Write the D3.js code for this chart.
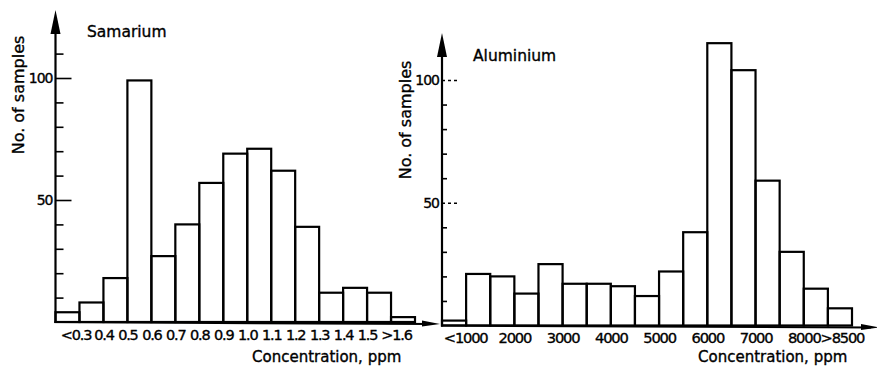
<!DOCTYPE html>
<html>
<head>
<meta charset="utf-8">
<script src="https://cdn.jsdelivr.net/npm/d3@7"></script>
<style>
  body { margin: 0; background: #fff; }
  svg { display: block; }
  text { font-family: "DejaVu Sans", sans-serif; fill: #000; stroke: #000; stroke-width: 0.35px; }
</style>
</head>
<body>
<svg id="chart" width="877" height="368"></svg>
<script>
// Samarium: number of samples per 0.1 ppm class (first class "<0.3", last ">1.6")
const smCounts = [4, 8, 18, 99, 27, 40, 57, 69, 71, 62, 39, 12, 14, 12, 2];
const smBinStart = 0.2;
const smBinWidth = 0.1;
const smTickValues = [0.3, 0.4, 0.5, 0.6, 0.7, 0.8, 0.9, 1.0, 1.1, 1.2, 1.3, 1.4, 1.5, 1.6];
const smTickLabels = ["<0.3", "0.4", "0.5", "0.6", "0.7", "0.8", "0.9", "1.0", "1.1", "1.2", "1.3", "1.4", "1.5", ">1.6"];

// Aluminium: number of samples per 500 ppm class (first class "<1000", last ">8500")
const alCounts = [2, 21, 20, 13, 25, 17, 17, 16, 12, 22, 38, 115, 104, 59, 30, 15, 7];
const alBinStart = 500;
const alBinWidth = 500;
const alTickValues = [1000, 2000, 3000, 4000, 5000, 6000, 7000, 8000, 8500];
const alTickLabels = ["<1000", "2000", "3000", "4000", "5000", "6000", "7000", "8000", ">8500"];

// Count axis
const smYTicks = [10, 20, 30, 40, 50, 60, 70, 80, 90, 100, 110];
const alYTicks = [10, 20, 30, 40, 50, 60, 70, 80, 90, 100];
const yLabelledTicks = [50, 100];

const titles = ["Samarium", "Aluminium"];
const yTitle = "No. of samples";
const xTitle = "Concentration, ppm";

const svg = d3.select("#chart");

function drawPanel(p) {
  const g = svg.append("g");
  const n = p.counts.length;
  const x = d3.scaleLinear()
    .domain([p.binStart, p.binStart + n * p.binWidth])
    .range(p.xRange);
  const y = d3.scaleLinear().domain([0, 100]).range(p.yRange);
  const x0 = p.xRange[0];
  const y0 = y(0);

  // histogram bars
  g.append("g").selectAll("rect")
    .data(p.counts)
    .join("rect")
    .attr("x", (d, i) => x(p.binStart + i * p.binWidth))
    .attr("y", d => y(d))
    .attr("width", (d, i) => x(p.binStart + (i + 1) * p.binWidth) - x(p.binStart + i * p.binWidth))
    .attr("height", d => y0 - y(d))
    .attr("fill", "none")
    .attr("stroke", "#000")
    .attr("stroke-width", 2.2);

  // count axis: inward ticks, labels on the outside
  const yAxis = d3.axisLeft(y)
    .tickValues(p.yTicks)
    .tickSizeInner(-p.minorTick)
    .tickSizeOuter(0)
    .tickPadding(3)
    .tickFormat(d => yLabelledTicks.includes(d) ? String(d) : "");
  const ya = g.append("g").attr("transform", `translate(${x0},0)`).call(yAxis);
  ya.select(".domain").remove();
  ya.selectAll(".tick line")
    .attr("stroke", "#000")
    .attr("stroke-width", 1.6)
    .filter(d => yLabelledTicks.includes(d))
    .attr("x2", p.majorTick)
    .attr("stroke-dasharray", p.majorDash);
  ya.selectAll(".tick text")
    .attr("font-size", 14)
    .attr("letter-spacing", -1)
    .attr("font-family", "DejaVu Sans");

  // vertical axis line with arrowhead
  g.append("line")
    .attr("x1", x0).attr("x2", x0)
    .attr("y1", p.yArrowBase - 2).attr("y2", y0 + 1)
    .attr("stroke", "#000").attr("stroke-width", 2.2);
  g.append("path")
    .attr("d", `M${x0},${p.yArrowTip} L${x0 + 5},${p.yArrowBase} L${x0 - 5},${p.yArrowBase} Z`)
    .attr("fill", "#000");

  // horizontal axis line with arrowhead
  g.append("line")
    .attr("x1", x0 - 1).attr("x2", p.xArrowTip - 8)
    .attr("y1", y0).attr("y2", y0 + 2)
    .attr("stroke", "#000").attr("stroke-width", 2.2);
  g.append("path")
    .attr("d", `M${p.xArrowTip},${y0 + 2} L${p.xArrowTip - 18},${y0 - 1.5} L${p.xArrowTip - 18},${y0 + 4.5} Z`)
    .attr("fill", "#000");

  // class boundary labels
  const xAxis = d3.axisBottom(x)
    .tickValues(p.tickValues)
    .tickSize(0)
    .tickFormat((d, i) => p.tickLabels[i]);
  const xa = g.append("g").attr("transform", `translate(0,${y0})`).call(xAxis);
  xa.select(".domain").remove();
  xa.selectAll(".tick text")
    .attr("y", p.tickBaseline - y0)
    .attr("dy", 0)
    .attr("font-size", p.tickFont)
    .attr("letter-spacing", -1.2)
    .attr("font-family", "DejaVu Sans")
    .attr("dx", (d, i) => {
      const t = p.tickLabels[i];
      if (t.startsWith("<")) return p.ltShift;
      if (t.startsWith(">")) return p.gtShift;
      return 0;
    });

  // titles
  g.append("text")
    .attr("x", p.titlePos[0]).attr("y", p.titlePos[1])
    .attr("font-size", 15.5)
    .text(p.title);
  g.append("text")
    .attr("transform", `translate(${p.yTitlePos[0]},${p.yTitlePos[1]}) rotate(-90)`)
    .attr("text-anchor", "middle")
    .attr("font-size", 16)
    .text(yTitle);
  g.append("text")
    .attr("x", p.xTitlePos[0]).attr("y", p.xTitlePos[1])
    .attr("font-size", 15)
    .text(xTitle);
}

drawPanel({
  counts: smCounts, binStart: smBinStart, binWidth: smBinWidth,
  tickValues: smTickValues, tickLabels: smTickLabels,
  yTicks: smYTicks, title: titles[0],
  xRange: [55.5, 415], yRange: [322, 78],
  minorTick: 8, majorTick: 16, majorDash: null,
  yArrowTip: 10, yArrowBase: 34, xArrowTip: 440,
  tickBaseline: 339.5, tickFont: 14.5, ltShift: -4, gtShift: 5,
  titlePos: [87, 36.5], yTitlePos: [24, 95], xTitlePos: [252, 361.5]
});

drawPanel({
  counts: alCounts, binStart: alBinStart, binWidth: alBinWidth,
  tickValues: alTickValues, tickLabels: alTickLabels,
  yTicks: alYTicks, title: titles[1],
  xRange: [442, 852], yRange: [325.5, 80],
  minorTick: 5, majorTick: 15, majorDash: "3,3",
  yArrowTip: 33, yArrowBase: 57, xArrowTip: 879,
  tickBaseline: 343, tickFont: 14.7, ltShift: -1, gtShift: 14,
  titlePos: [473, 60.5], yTitlePos: [411, 120], xTitlePos: [698, 361.5]
});
</script>
</body>
</html>
